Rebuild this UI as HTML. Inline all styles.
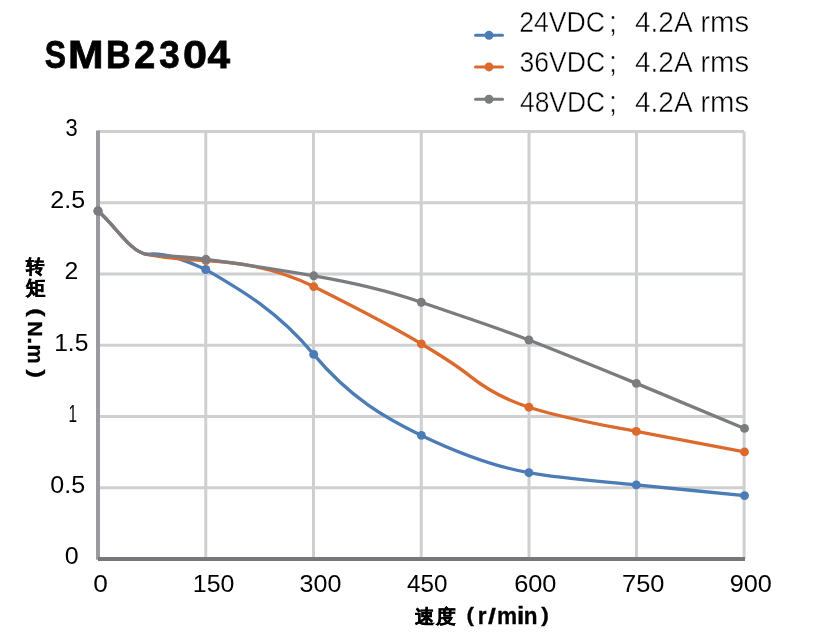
<!DOCTYPE html>
<html><head><meta charset="utf-8"><style>
html,body{margin:0;padding:0;background:#fff;}
body{width:831px;height:640px;overflow:hidden;}
svg{display:block;will-change:transform;}
text{font-family:"Liberation Sans",sans-serif;}
</style></head><body>
<svg width="831" height="640" viewBox="0 0 831 640">
<line x1="98" y1="131.50" x2="744" y2="131.50" stroke="#cecfd1" stroke-width="3"/><line x1="98" y1="202.75" x2="744" y2="202.75" stroke="#cecfd1" stroke-width="3"/><line x1="98" y1="274.00" x2="744" y2="274.00" stroke="#cecfd1" stroke-width="3"/><line x1="98" y1="345.25" x2="744" y2="345.25" stroke="#cecfd1" stroke-width="3"/><line x1="98" y1="416.50" x2="744" y2="416.50" stroke="#cecfd1" stroke-width="3"/><line x1="98" y1="487.75" x2="744" y2="487.75" stroke="#cecfd1" stroke-width="3"/><line x1="205.75" y1="131.5" x2="205.75" y2="559" stroke="#cecfd1" stroke-width="3"/><line x1="313.50" y1="131.5" x2="313.50" y2="559" stroke="#cecfd1" stroke-width="3"/><line x1="421.25" y1="131.5" x2="421.25" y2="559" stroke="#cecfd1" stroke-width="3"/><line x1="529.00" y1="131.5" x2="529.00" y2="559" stroke="#cecfd1" stroke-width="3"/><line x1="636.50" y1="131.5" x2="636.50" y2="559" stroke="#cecfd1" stroke-width="3"/><line x1="744.10" y1="131.5" x2="744.10" y2="559" stroke="#cecfd1" stroke-width="3"/>
<line x1="98" y1="130.5" x2="98" y2="559.7" stroke="#9a9b9f" stroke-width="4"/><line x1="98" y1="559" x2="745" y2="559" stroke="#76777b" stroke-width="4"/>
<path d="M98.00,211.00 C114.33,224.39 130.67,252.67 147.00,254.30 C166.57,252.34 186.13,260.69 205.70,269.50 C241.70,290.38 277.70,311.20 313.70,354.40 C349.60,397.48 385.50,418.17 421.40,435.40 C457.23,452.60 493.07,466.25 528.90,472.70 C564.70,479.14 600.50,481.32 636.30,484.90 C672.37,488.51 708.43,491.99 744.50,495.60" fill="none" stroke="#4b7cb5" stroke-width="3.3" stroke-linejoin="round" stroke-linecap="round"/>
<circle cx="98.00" cy="211.00" r="4.45" fill="#4b7cb5"/><circle cx="205.70" cy="269.50" r="4.45" fill="#4b7cb5"/><circle cx="313.70" cy="354.40" r="4.45" fill="#4b7cb5"/><circle cx="421.40" cy="435.40" r="4.45" fill="#4b7cb5"/><circle cx="528.90" cy="472.70" r="4.45" fill="#4b7cb5"/><circle cx="636.30" cy="484.90" r="4.45" fill="#4b7cb5"/><circle cx="744.50" cy="495.60" r="4.45" fill="#4b7cb5"/>
<path d="M98.00,211.00 C114.33,224.39 130.67,252.67 147.00,254.30 C166.63,258.23 186.27,259.52 205.90,260.50 C241.83,262.30 277.77,268.63 313.70,286.60 C349.60,304.55 385.50,322.36 421.40,343.90 C437.60,353.62 453.80,363.14 470.00,376.10 C489.63,391.81 509.27,400.92 528.90,407.20 C564.70,418.66 600.50,424.60 636.30,431.40 C672.37,438.25 708.43,445.05 744.50,451.90" fill="none" stroke="#db6a2c" stroke-width="3.3" stroke-linejoin="round" stroke-linecap="round"/>
<circle cx="98.00" cy="211.00" r="4.45" fill="#db6a2c"/><circle cx="205.90" cy="260.50" r="4.45" fill="#db6a2c"/><circle cx="313.70" cy="286.60" r="4.45" fill="#db6a2c"/><circle cx="421.40" cy="343.90" r="4.45" fill="#db6a2c"/><circle cx="528.90" cy="407.20" r="4.45" fill="#db6a2c"/><circle cx="636.30" cy="431.40" r="4.45" fill="#db6a2c"/><circle cx="744.50" cy="451.90" r="4.45" fill="#db6a2c"/>
<path d="M98.00,211.00 C114.33,224.39 130.67,252.67 147.00,254.30 C166.63,256.26 186.27,256.79 205.90,259.30 C241.87,263.90 277.83,269.69 313.80,275.80 C349.63,281.89 385.47,289.71 421.30,302.25 C457.17,314.80 493.03,326.01 528.90,340.00 C564.73,353.98 600.57,368.71 636.40,383.40 C672.43,398.17 708.47,413.27 744.50,428.40" fill="none" stroke="#7b7c80" stroke-width="3.3" stroke-linejoin="round" stroke-linecap="round"/>
<circle cx="98.00" cy="211.00" r="4.45" fill="#7b7c80"/><circle cx="205.90" cy="259.30" r="4.45" fill="#7b7c80"/><circle cx="313.80" cy="275.80" r="4.45" fill="#7b7c80"/><circle cx="421.30" cy="302.25" r="4.45" fill="#7b7c80"/><circle cx="528.90" cy="340.00" r="4.45" fill="#7b7c80"/><circle cx="636.40" cy="383.40" r="4.45" fill="#7b7c80"/><circle cx="744.50" cy="428.40" r="4.45" fill="#7b7c80"/>

<line x1="475.5" y1="35.35" x2="502.5" y2="35.35" stroke="#4b7cb5" stroke-width="3" stroke-linecap="round"/><circle cx="489" cy="35.35" r="4.5" fill="#4b7cb5"/><line x1="475.5" y1="66.90" x2="502.5" y2="66.90" stroke="#db6a2c" stroke-width="3" stroke-linecap="round"/><circle cx="489" cy="66.90" r="4.5" fill="#db6a2c"/><line x1="475.5" y1="99.20" x2="502.5" y2="99.20" stroke="#7b7c80" stroke-width="3" stroke-linecap="round"/><circle cx="489" cy="99.20" r="4.5" fill="#7b7c80"/>
<text transform="translate(44.84 67.90) scale(0.8043 1)" font-size="39.58" font-weight="bold" fill="#000" stroke="#000" stroke-width="0.8">S</text>
<text transform="translate(68.11 67.90) scale(1.0793 1)" font-size="39.58" font-weight="bold" fill="#000" stroke="#000" stroke-width="0.8">M</text>
<text transform="translate(106.01 67.90) scale(0.8616 1)" font-size="39.58" font-weight="bold" fill="#000" stroke="#000" stroke-width="0.8">B</text>
<text transform="translate(134.27 67.90) scale(0.9540 1)" font-size="39.58" font-weight="bold" fill="#000" stroke="#000" stroke-width="0.8">2</text>
<text transform="translate(159.36 67.90) scale(0.9298 1)" font-size="39.58" font-weight="bold" fill="#000" stroke="#000" stroke-width="0.8">3</text>
<text transform="translate(182.97 67.90) scale(1.0913 1)" font-size="39.58" font-weight="bold" fill="#000" stroke="#000" stroke-width="0.8">0</text>
<text transform="translate(207.39 67.90) scale(1.0250 1)" font-size="39.58" font-weight="bold" fill="#000" stroke="#000" stroke-width="0.8">4</text>
<text transform="translate(519.17 32.41) scale(0.9239 1)" font-size="28.87" font-weight="normal" fill="#000" stroke="#fff" stroke-width="0.45">24VDC</text>
<text transform="translate(609.01 32.41) scale(1.0000 1)" font-size="28.87" font-weight="normal" fill="#000" stroke="#fff" stroke-width="0.45">;</text>
<text transform="translate(634.94 32.41) scale(0.9708 1)" font-size="28.87" font-weight="normal" fill="#000" stroke="#fff" stroke-width="0.45">4.2A</text>
<text transform="translate(700.14 32.41) scale(1.0190 1)" font-size="28.87" font-weight="normal" fill="#000" stroke="#fff" stroke-width="0.45">rms</text>
<text transform="translate(519.44 72.01) scale(0.9210 1)" font-size="28.87" font-weight="normal" fill="#000" stroke="#fff" stroke-width="0.45">36VDC</text>
<text transform="translate(609.01 72.01) scale(1.0000 1)" font-size="28.87" font-weight="normal" fill="#000" stroke="#fff" stroke-width="0.45">;</text>
<text transform="translate(634.94 72.01) scale(0.9708 1)" font-size="28.87" font-weight="normal" fill="#000" stroke="#fff" stroke-width="0.45">4.2A</text>
<text transform="translate(700.14 72.01) scale(1.0190 1)" font-size="28.87" font-weight="normal" fill="#000" stroke="#fff" stroke-width="0.45">rms</text>
<text transform="translate(519.97 112.01) scale(0.9152 1)" font-size="28.87" font-weight="normal" fill="#000" stroke="#fff" stroke-width="0.45">48VDC</text>
<text transform="translate(609.01 112.01) scale(1.0000 1)" font-size="28.87" font-weight="normal" fill="#000" stroke="#fff" stroke-width="0.45">;</text>
<text transform="translate(634.94 112.01) scale(0.9708 1)" font-size="28.87" font-weight="normal" fill="#000" stroke="#fff" stroke-width="0.45">4.2A</text>
<text transform="translate(700.14 112.01) scale(1.0190 1)" font-size="28.87" font-weight="normal" fill="#000" stroke="#fff" stroke-width="0.45">rms</text>
<text transform="translate(65.52 136.45) scale(0.8942 1)" font-size="24.51" font-weight="normal" fill="#000">3</text>
<text transform="translate(50.35 207.66) scale(1.0320 1)" font-size="24.23" font-weight="normal" fill="#000">2.5</text>
<text transform="translate(64.56 279.10) scale(1.0205 1)" font-size="24.29" font-weight="normal" fill="#000">2</text>
<text transform="translate(54.13 350.56) scale(1.0089 1)" font-size="24.43" font-weight="normal" fill="#000">1.5</text>
<text transform="translate(68.47 422.00) scale(0.6267 1)" font-size="24.49" font-weight="normal" fill="#000">1</text>
<text transform="translate(50.30 493.25) scale(1.0158 1)" font-size="24.65" font-weight="normal" fill="#000">0.5</text>
<text transform="translate(64.80 564.46) scale(1.0320 1)" font-size="24.23" font-weight="normal" fill="#000">0</text>
<text transform="translate(93.15 591.77) scale(1.1364 1)" font-size="23.10" font-weight="normal" fill="#000">0</text>
<text transform="translate(192.81 591.77) scale(1.0781 1)" font-size="23.10" font-weight="normal" fill="#000">150</text>
<text transform="translate(299.60 591.77) scale(1.0864 1)" font-size="23.10" font-weight="normal" fill="#000">300</text>
<text transform="translate(407.02 591.77) scale(1.0487 1)" font-size="23.10" font-weight="normal" fill="#000">450</text>
<text transform="translate(514.13 591.77) scale(1.0988 1)" font-size="23.10" font-weight="normal" fill="#000">600</text>
<text transform="translate(622.03 591.77) scale(1.1015 1)" font-size="23.10" font-weight="normal" fill="#000">750</text>
<text transform="translate(729.64 591.77) scale(1.0933 1)" font-size="23.10" font-weight="normal" fill="#000">900</text>
<text transform="translate(414.61 623.14) scale(1.0255 1)" font-size="18.90" font-weight="bold" fill="#000" stroke="#000" stroke-width="0.45">速</text>
<text transform="translate(435.70 623.14) scale(1.0393 1)" font-size="18.90" font-weight="bold" fill="#000" stroke="#000" stroke-width="0.45">度</text>
<text transform="translate(466.57 621.56) scale(1.1132 1)" font-size="20.21" font-weight="bold" fill="#000" stroke="#000" stroke-width="0.3">(</text>
<text transform="translate(477.68 623.90) scale(0.9720 1)" font-size="23.15" font-weight="bold" fill="#000" stroke="#000" stroke-width="0.3">r</text>
<text transform="translate(487.92 623.88) scale(1.3082 1)" font-size="21.76" font-weight="bold" fill="#000" stroke="#000" stroke-width="0.3">/</text>
<text transform="translate(497.12 623.90) scale(0.9777 1)" font-size="23.15" font-weight="bold" fill="#000" stroke="#000" stroke-width="0.3">m</text>
<text transform="translate(517.05 623.90) scale(1.1417 1)" font-size="23.15" font-weight="bold" fill="#000" stroke="#000" stroke-width="0.3">i</text>
<text transform="translate(523.72 623.90) scale(0.9720 1)" font-size="23.15" font-weight="bold" fill="#000" stroke="#000" stroke-width="0.3">n</text>
<text transform="translate(541.20 621.61) scale(1.1190 1)" font-size="20.43" font-weight="bold" fill="#000" stroke="#000" stroke-width="0.3">)</text>
<text transform="translate(26.39 273.20) scale(0.9688 1)" font-size="19.39" font-weight="bold" fill="#000" stroke="#000" stroke-width="0.45">转</text>
<text transform="translate(26.20 295.05) scale(0.9794 1)" font-size="19.58" font-weight="bold" fill="#000" stroke="#000" stroke-width="0.45">矩</text>
<text transform="translate(30.36 308.33) rotate(90) scale(1.2815 1)" font-size="19.79" font-weight="bold" fill="#000" stroke="#000" stroke-width="0.3">(</text>
<text transform="translate(28.40 321.08) rotate(90) scale(1.0556 1)" font-size="20.58" font-weight="bold" fill="#000" stroke="#000" stroke-width="0.3">N</text>
<text transform="translate(28.40 337.10) rotate(90) scale(1.3189 1)" font-size="20.58" font-weight="bold" fill="#000" stroke="#000" stroke-width="0.3">.</text>
<text transform="translate(28.40 344.59) rotate(90) scale(1.0133 1)" font-size="21.30" font-weight="bold" fill="#000" stroke="#000" stroke-width="0.3">m</text>
<text transform="translate(30.36 369.60) rotate(90) scale(1.2815 1)" font-size="19.79" font-weight="bold" fill="#000" stroke="#000" stroke-width="0.3">)</text>
</svg>
</body></html>
